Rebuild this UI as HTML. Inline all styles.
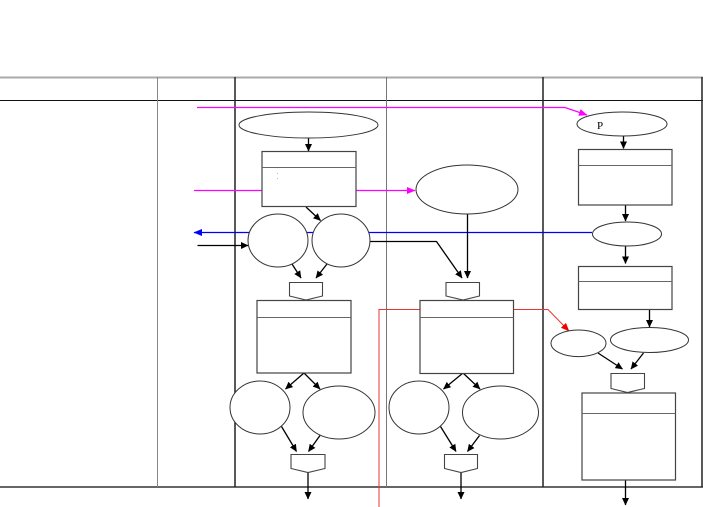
<!DOCTYPE html>
<html><head><meta charset="utf-8"><style>
html,body{margin:0;padding:0;background:#fff;}
svg{display:block;}
</style></head><body>
<svg width="703" height="507" viewBox="0 0 703 507" xmlns="http://www.w3.org/2000/svg">
<defs>
<marker id="ak" markerWidth="8" markerHeight="8" refX="7" refY="4" orient="auto" markerUnits="userSpaceOnUse"><path d="M0,0.5 L7.5,4 L0,7.5 z" fill="#000"/></marker>
<marker id="am" markerWidth="9" markerHeight="8" refX="8" refY="4" orient="auto" markerUnits="userSpaceOnUse"><path d="M0,0.5 L8.5,4 L0,7.5 z" fill="#f0f"/></marker>
<marker id="ab" markerWidth="9" markerHeight="8" refX="8" refY="4" orient="auto" markerUnits="userSpaceOnUse"><path d="M0,0.5 L8.5,4 L0,7.5 z" fill="#00f"/></marker>
<marker id="ar" markerWidth="9" markerHeight="8" refX="8" refY="4" orient="auto" markerUnits="userSpaceOnUse"><path d="M0,0.5 L8.5,4 L0,7.5 z" fill="#e00"/></marker>
</defs>
<rect width="703" height="507" fill="#fff"/>

<!-- grid -->
<line x1="0" y1="77.5" x2="703" y2="77.5" stroke="#aaa" stroke-width="2"/>
<line x1="0" y1="100.5" x2="703" y2="100.5" stroke="#111" stroke-width="1"/>
<line x1="0" y1="487" x2="703" y2="487" stroke="#333" stroke-width="1.5"/>
<line x1="157.5" y1="77" x2="157.5" y2="487" stroke="#888" stroke-width="1"/>
<line x1="235" y1="77" x2="235" y2="487" stroke="#222" stroke-width="1.5"/>
<line x1="386.5" y1="77" x2="386.5" y2="487" stroke="#777" stroke-width="1"/>
<line x1="543" y1="77" x2="543" y2="487" stroke="#222" stroke-width="1.5"/>
<line x1="702" y1="77" x2="702" y2="487" stroke="#222" stroke-width="1.5"/>

<!-- colored connectors -->
<polyline points="197,107.5 565,107.5 587,115" fill="none" stroke="#f0f" stroke-width="1.2" marker-end="url(#am)"/>
<line x1="194" y1="190.5" x2="415" y2="190.5" stroke="#f0f" stroke-width="1.2" marker-end="url(#am)"/>
<line x1="592" y1="232.5" x2="194" y2="232.5" stroke="#00f" stroke-width="1.2" marker-end="url(#ab)"/>
<polyline points="379,507 379,309.5 548,309.5 569,331" fill="none" stroke="#e33" stroke-width="1" marker-end="url(#ar)"/>

<!-- black connectors -->
<g stroke="#000" stroke-width="1.3" fill="none" marker-end="url(#ak)">
<line x1="308.5" y1="138" x2="308.5" y2="151"/>
<line x1="306" y1="207" x2="320.5" y2="220.5"/>
<line x1="197.5" y1="245.5" x2="248" y2="245.5"/>
<polyline points="370,241.5 436.5,241.5 462,278"/>
<line x1="467.5" y1="214" x2="467.5" y2="278"/>
<line x1="292" y1="264" x2="301" y2="278"/>
<line x1="327" y1="264" x2="316" y2="278"/>
<line x1="304" y1="373" x2="285.5" y2="389"/>
<line x1="304" y1="373" x2="320" y2="389"/>
<line x1="463" y1="373" x2="443.5" y2="389"/>
<line x1="463" y1="373" x2="480" y2="389"/>
<line x1="281.5" y1="426.5" x2="296.5" y2="451.5"/>
<line x1="320" y1="435.5" x2="308.5" y2="451.5"/>
<line x1="440.5" y1="426.5" x2="456" y2="451.5"/>
<line x1="479.5" y1="435.5" x2="467.5" y2="451.5"/>
<line x1="308" y1="472" x2="308" y2="499"/>
<line x1="461" y1="472" x2="461" y2="499"/>
<line x1="623.5" y1="136" x2="623.5" y2="148.5"/>
<line x1="625.5" y1="205" x2="625.5" y2="221"/>
<line x1="625.5" y1="246" x2="625.5" y2="263.5"/>
<line x1="649.5" y1="309.5" x2="649.5" y2="327"/>
<line x1="598" y1="353" x2="622.5" y2="369"/>
<line x1="643.5" y1="353" x2="631" y2="369"/>
<line x1="625.5" y1="480" x2="625.5" y2="505"/>
</g>

<!-- ellipses -->
<g fill="#fff" stroke="#333" stroke-width="1">
<ellipse cx="308.5" cy="125" rx="69.5" ry="13"/>
<ellipse cx="467" cy="189.5" rx="51" ry="24.5"/>
<ellipse cx="278" cy="240.5" rx="30" ry="26.5"/>
<ellipse cx="341" cy="240.5" rx="29" ry="26.5"/>
<ellipse cx="260" cy="407.5" rx="30" ry="26.5"/>
<ellipse cx="339" cy="412.5" rx="36" ry="26.5"/>
<ellipse cx="419" cy="407.5" rx="30" ry="26.5"/>
<ellipse cx="500.5" cy="412.5" rx="38" ry="26.5"/>
<ellipse cx="622" cy="124" rx="45" ry="12"/>
<ellipse cx="627" cy="234" rx="34.5" ry="12"/>
<ellipse cx="649.5" cy="340" rx="39" ry="12.5"/>
<ellipse cx="578.5" cy="343.3" rx="27.5" ry="13.3"/>
</g>
<text x="597" y="129" font-family="Liberation Serif, serif" font-size="11" fill="#000">P</text>

<!-- rectangles -->
<g fill="#fff" stroke="#444" stroke-width="1.2">
<rect x="262" y="151.5" width="94" height="55"/>
<rect x="257" y="300.5" width="94" height="72.5"/>
<rect x="420" y="300.5" width="93.5" height="73"/>
<rect x="578.5" y="149.5" width="93.5" height="55.5"/>
<rect x="578.5" y="266.5" width="93.5" height="43"/>
<rect x="582" y="393" width="93.5" height="87"/>
</g>
<g stroke="#666" stroke-width="1">
<line x1="262" y1="167.5" x2="356" y2="167.5"/>
<line x1="257" y1="317.5" x2="351" y2="317.5"/>
<line x1="420" y1="317.5" x2="513.5" y2="317.5"/>
<line x1="578.5" y1="165.5" x2="672" y2="165.5"/>
<line x1="578.5" y1="281.5" x2="672" y2="281.5"/>
<line x1="582" y1="413.5" x2="675.5" y2="413.5"/>
</g>
<g fill="#bbb"><rect x="277" y="173" width="1" height="1"/><rect x="277" y="178" width="1" height="1"/></g>

<!-- offpage connectors -->
<g fill="#fff" stroke="#444" stroke-width="1.1">
<polygon points="289.5,282.5 322.5,282.5 322.5,296 306,300 289.5,296"/>
<polygon points="446,282.5 479.5,282.5 479.5,296 463,300 446,296"/>
<polygon points="291,454.5 325,454.5 325,468.5 308,472.5 291,468.5"/>
<polygon points="444.5,454.5 477.5,454.5 477.5,468.5 461,472.5 444.5,468.5"/>
<polygon points="611,373.5 644.5,373.5 644.5,388.5 627.5,392.5 611,388.5"/>
</g>
</svg>
</body></html>
